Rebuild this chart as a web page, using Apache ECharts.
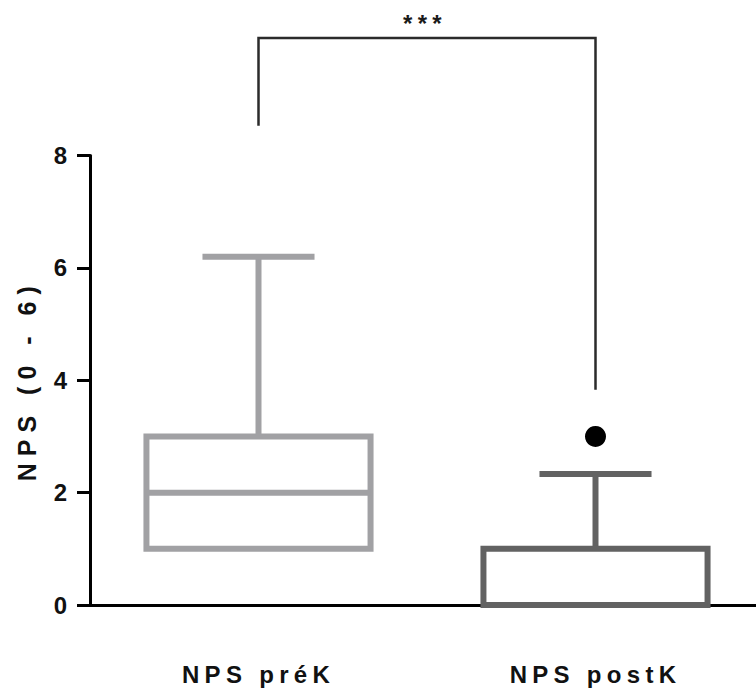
<!DOCTYPE html>
<html><head><meta charset="utf-8">
<script src="https://cdn.jsdelivr.net/npm/echarts@6/dist/echarts.min.js"></script>
<style>
html,body{margin:0;padding:0;background:#fff}
#chart{width:756px;height:693px}
#chart text[style*="Arial"]{letter-spacing:5.3px}
#chart text[style*="Helvetica"]{letter-spacing:7px}
</style></head><body><div id="chart"></div>
<script>
const categories = ['NPS préK', 'NPS postK'];
const whiskerLow = [1, 0];
const q1 = [1, 0];
const medians = [2, 0];
const q3 = [3, 1];
const whiskerHigh = [6.2, 2.33];
const outliers = [[1, 3]];
const bracketLegEnds = [8.53, 3.83];
const bracketTop = 10.09;
const sigLabel = '***';
const yAxisTitle = 'NPS (0 - 6)';
const yMin = 0, yMax = 8, yStep = 2;
const boxColors = ['#a1a1a4', '#626262'];

const boxData = categories.map((c, i) => [i, whiskerLow[i], q1[i], medians[i], q3[i], whiskerHigh[i]]);
const bracketData = [[0, bracketLegEnds[0], bracketTop, 1, bracketLegEnds[1]]];

function renderBox(params, api) {
  const i = api.value(0);
  const cx = api.coord([i, api.value(3)])[0];
  const yLow = api.coord([i, api.value(1)])[1];
  const yQ1 = api.coord([i, api.value(2)])[1];
  const yMed = api.coord([i, api.value(3)])[1];
  const yQ3 = api.coord([i, api.value(4)])[1];
  const yHigh = api.coord([i, api.value(5)])[1];
  const band = api.size([1, 0])[0];
  const bw = band * 0.665, cw = bw * 0.5;
  const st = { stroke: boxColors[i], lineWidth: 6, fill: 'none' };
  const children = [
    { type: 'line', shape: { x1: cx, y1: yQ3, x2: cx, y2: yHigh }, style: st },
    { type: 'line', shape: { x1: cx - cw / 2, y1: yHigh, x2: cx + cw / 2, y2: yHigh }, style: st },
    { type: 'rect', shape: { x: cx - bw / 2, y: yQ3, width: bw, height: yQ1 - yQ3 }, style: st },
    { type: 'line', shape: { x1: cx - bw / 2, y1: yMed, x2: cx + bw / 2, y2: yMed }, style: st }
  ];
  if (yLow > yQ1 + 0.5) {
    children.push({ type: 'line', shape: { x1: cx, y1: yQ1, x2: cx, y2: yLow }, style: st });
    children.push({ type: 'line', shape: { x1: cx - cw / 2, y1: yLow, x2: cx + cw / 2, y2: yLow }, style: st });
  }
  return { type: 'group', children };
}

function renderBracket(params, api) {
  const p0 = api.coord([api.value(0), api.value(1)]);
  const p1 = api.coord([api.value(0), api.value(2)]);
  const p2 = api.coord([api.value(3), api.value(2)]);
  const p3 = api.coord([api.value(3), api.value(4)]);
  return {
    type: 'group',
    children: [
      { type: 'polyline', shape: { points: [p0, p1, p2, p3] }, style: { stroke: '#2b2b2b', lineWidth: 2.5, fill: 'none' } },
      { type: 'text', style: { text: sigLabel, x: (p1[0] + p2[0]) / 2 - 2, y: p1[1] - 15, align: 'center', verticalAlign: 'middle',
        fontSize: 24, fontWeight: 'bold', fontFamily: 'Liberation Sans, Arial', fill: '#1a1a1a' } }
    ]
  };
}

const chart = echarts.init(document.getElementById('chart'), null, { renderer: 'svg' });
chart.setOption({
  animation: false,
  backgroundColor: '#fff',
  grid: { left: 90, width: 674, top: 155.5, bottom: 88, containLabel: false, outerBoundsMode: 'none' },
  xAxis: {
    type: 'category', data: categories, boundaryGap: true,
    axisLine: { lineStyle: { color: '#000', width: 3 } },
    axisTick: { alignWithLabel: true, length: 13, lineStyle: { color: '#000', width: 3 } },
    axisLabel: { interval: 0, margin: 57, fontSize: 24, fontWeight: 'bold', fontFamily: 'Liberation Sans, Arial', color: '#111' },
    splitLine: { show: false }
  },
  yAxis: {
    type: 'value', min: yMin, max: yMax, interval: yStep,
    name: yAxisTitle, nameLocation: 'middle', nameGap: 51,
    nameTextStyle: { fontSize: 25, fontWeight: 'bold', fontFamily: 'Liberation Sans, Helvetica', color: '#111' },
    axisLine: { show: true, lineStyle: { color: '#000', width: 3 } },
    axisTick: { show: true, length: 13, lineStyle: { color: '#000', width: 3 } },
    axisLabel: { margin: 23, fontSize: 24, fontWeight: 'bold', fontFamily: 'Liberation Sans', color: '#111' },
    splitLine: { show: false }
  },
  series: [
    { type: 'custom', name: 'box', renderItem: renderBox, data: boxData, clip: false, z: 3 },
    { type: 'scatter', name: 'outlier', data: outliers, symbol: 'circle', symbolSize: 21, itemStyle: { color: '#000', opacity: 1 }, z: 4 },
    { type: 'custom', name: 'bracket', renderItem: renderBracket, data: bracketData, clip: false, z: 5 }
  ]
});
</script></body></html>
